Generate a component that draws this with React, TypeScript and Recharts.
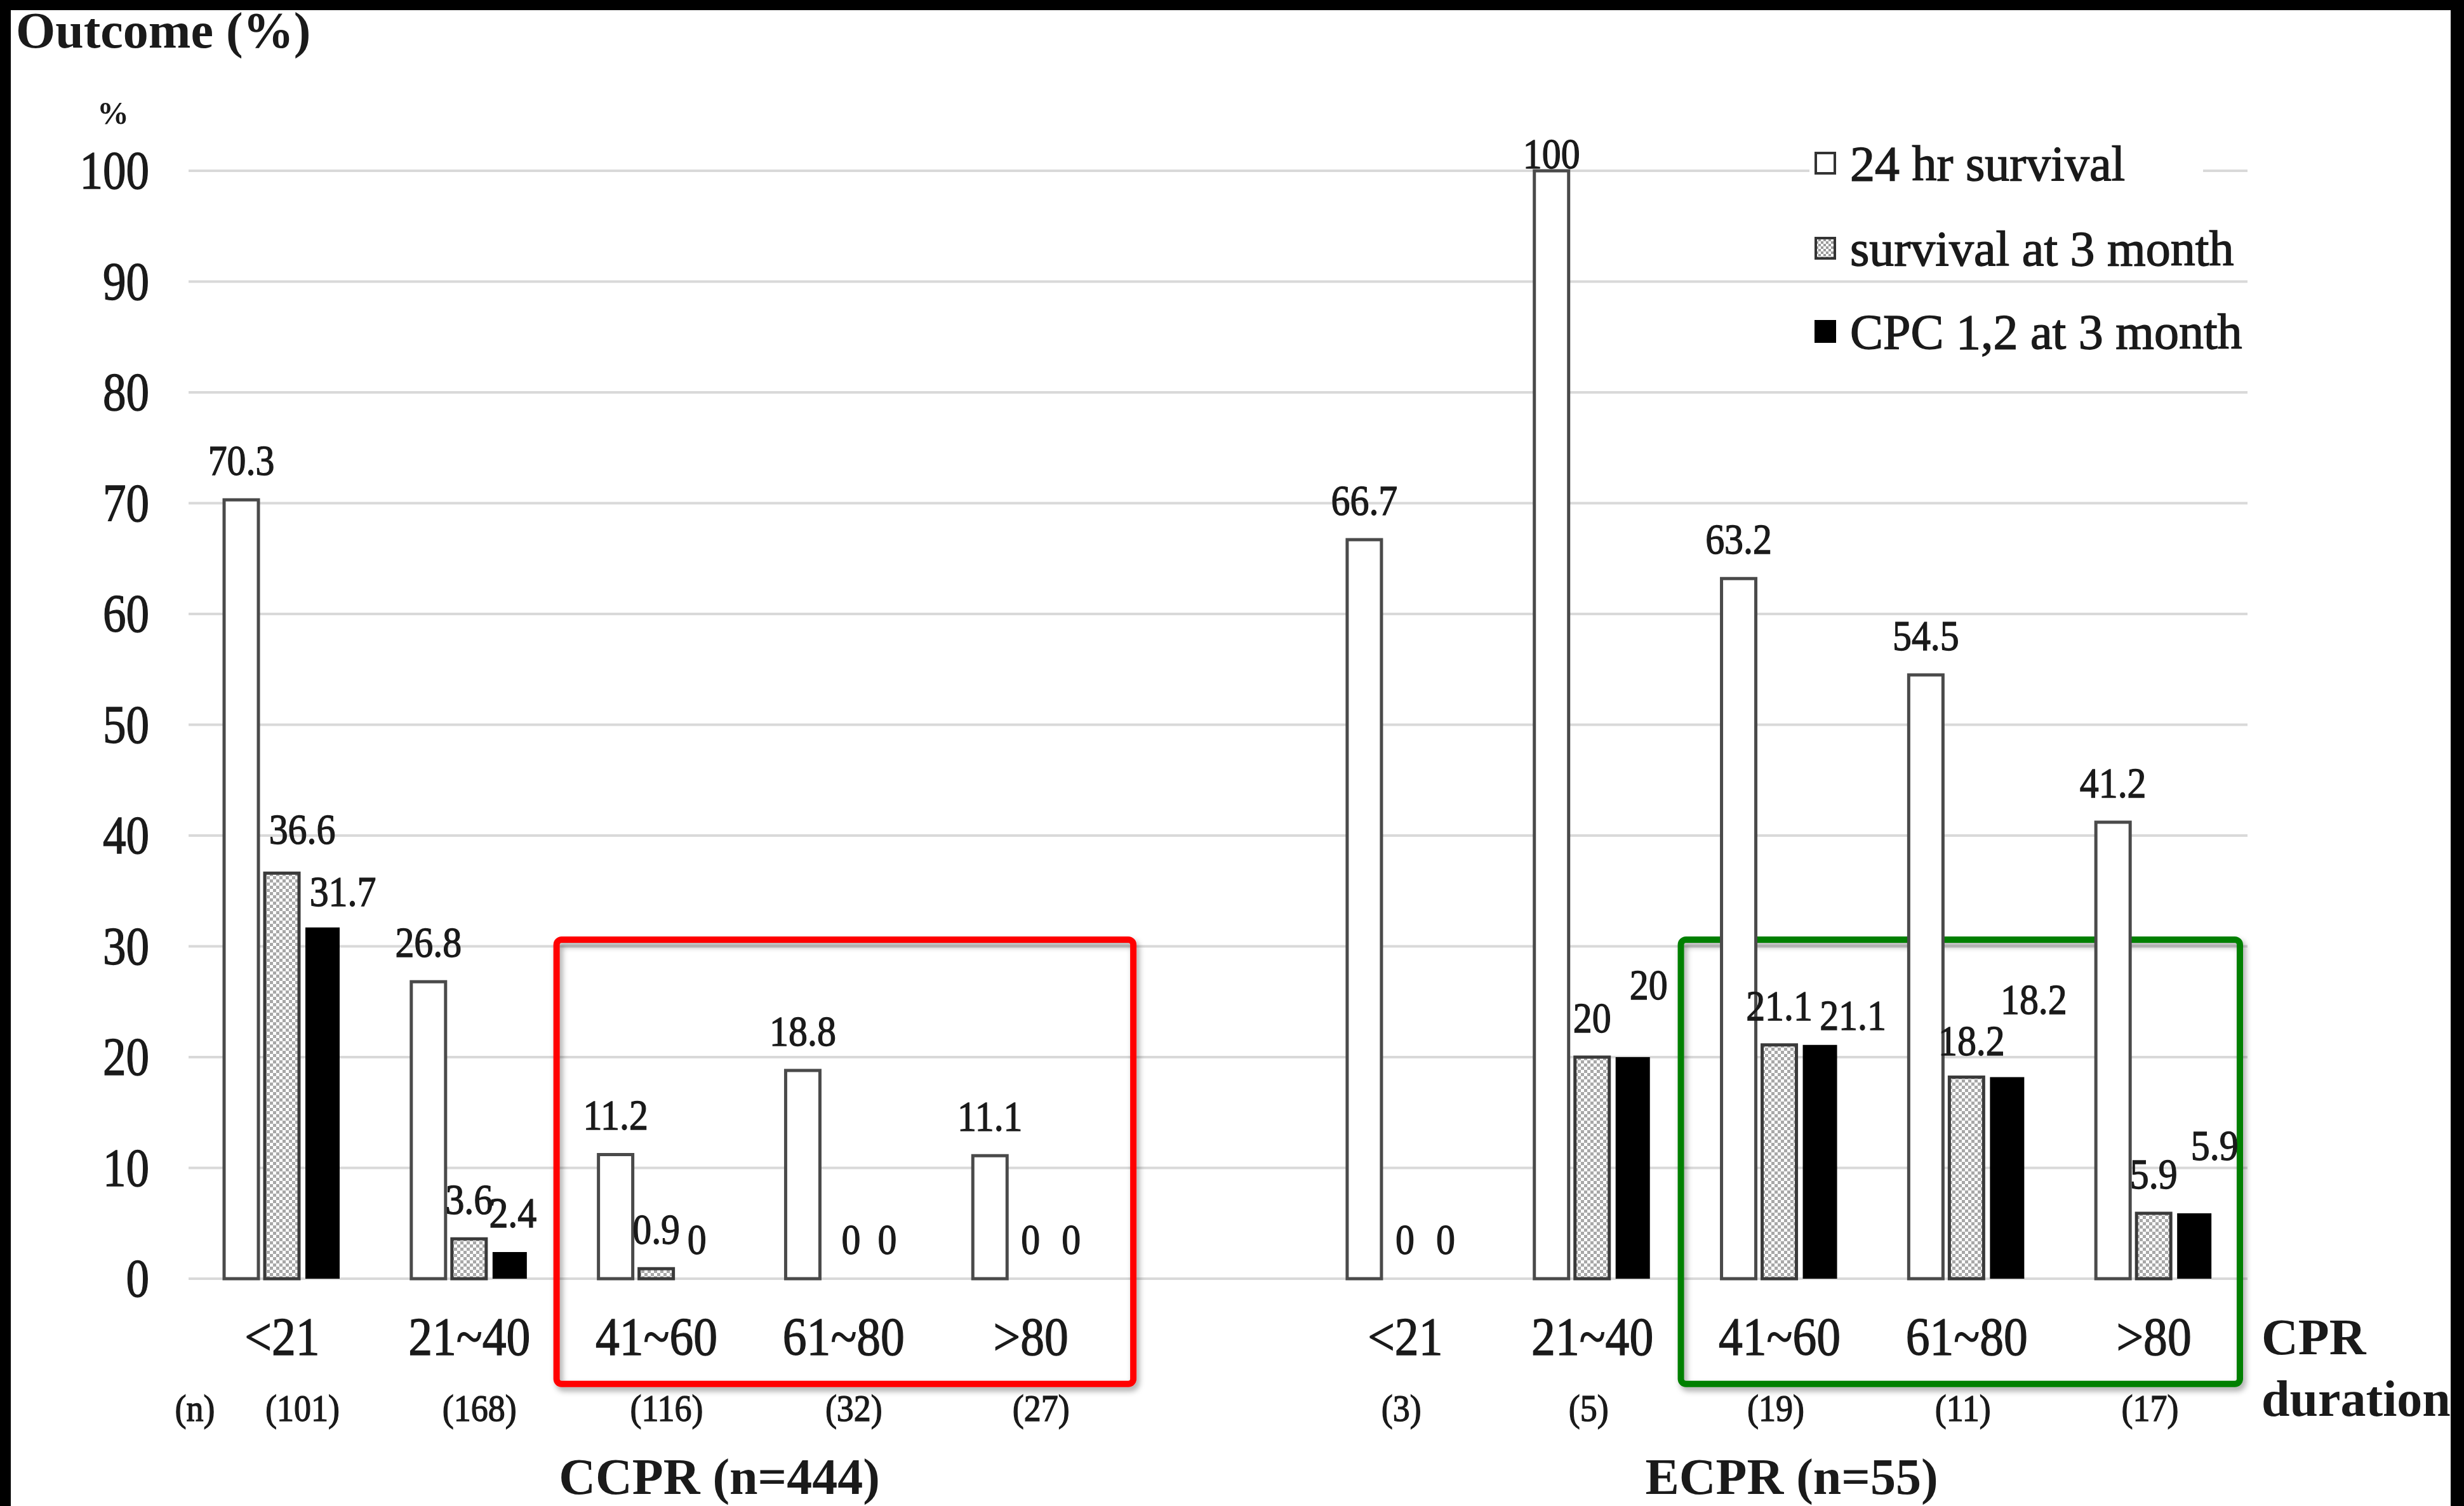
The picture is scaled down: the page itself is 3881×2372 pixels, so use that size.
import React from 'react';
import { BarChart, Bar, XAxis, YAxis, CartesianGrid, ReferenceArea, LabelList } from 'recharts';

// ---------- data ----------
const durationCategories = ['<21', '21~40', '41~60', '61~80', '>80'];
const ccprCounts = ['(101)', '(168)', '(116)', '(32)', '(27)'];
const ecprCounts = ['(3)', '(5)', '(19)', '(11)', '(17)'];
const ccprSurvival24h = [70.3, 26.8, 11.2, 18.8, 11.1];
const ccprSurvival3m = [36.6, 3.6, 0.9, 0, 0];
const ccprCpc3m = [31.7, 2.4, 0, 0, 0];
const ecprSurvival24h = [66.7, 100, 63.2, 54.5, 41.2];
const ecprSurvival3m = [0, 20, 21.1, 18.2, 5.9];
const ecprCpc3m = [0, 20, 21.1, 18.2, 5.9];
const yTicks = [0, 10, 20, 30, 40, 50, 60, 70, 80, 90, 100];
const seriesNames = ['24 hr survival', 'survival at 3 month', 'CPC 1,2 at 3 month'];
const groupTitles = ['CCPR (n=444)', 'ECPR (n=55)'];

type Row = { key: string; label: string; n: string; s24: number | null; s3m: number | null; cpc: number | null };

const rows: Row[] = [
  ...durationCategories.map((c, i) => ({
    key: `C${i}`, label: c, n: ccprCounts[i],
    s24: ccprSurvival24h[i], s3m: ccprSurvival3m[i], cpc: ccprCpc3m[i],
  })),
  { key: 'GAP', label: '', n: '', s24: null, s3m: null, cpc: null },
  ...durationCategories.map((c, i) => ({
    key: `E${i}`, label: c, n: ecprCounts[i],
    s24: ecprSurvival24h[i], s3m: ecprSurvival3m[i], cpc: ecprCpc3m[i],
  })),
];

// ---------- layout / style ----------
const SERIF = '"Liberation Serif", "Times New Roman", serif';
const TEXT = '#1a1a1a';
const W = 3881;
const H = 2372;
const BAR_SIZE = 54;
const BAR_GAP = 10;

// manual label nudges (dx, dy) as in the original figure
const LABEL_NUDGE: Record<string, [number, number]> = {
  's3m:C0': [32, -7],
  'cpc:C0': [32, 5],
  'cpc:C1': [5, 0],
  's3m:C3': [12, 0],
  'cpc:C3': [5, 0],
  's24:E1': [0, 35],
  'cpc:E1': [25, -52],
  'cpc:E2': [52, 15],
  's3m:E3': [8, 5],
  'cpc:E3': [42, -60],
  'cpc:E4': [32, -45],
};

const SquishText = ({ x, y, size, sx = 1, weight = 'normal', anchor = 'middle', children }: any) => (
  <text
    transform={`translate(${x},${y}) scale(${sx},1)`}
    x={0}
    y={0}
    textAnchor={anchor}
    dominantBaseline="central"
    fontFamily={SERIF}
    fontSize={size}
    fontWeight={weight}
    fill={TEXT}
    stroke={TEXT}
    strokeWidth={weight === 'bold' ? 0 : 1.4}
  >
    {children}
  </text>
);

// All three labels of a category are drawn from the 24-hr bar geometry,
// so that zero-valued bars (which draw no rectangle) still get their "0".
const GroupLabels = (props: any) => {
  const { x, y, width, height, value } = props;
  if (value === null || value === undefined) return null;
  const row = rows.find((r) => r.s24 === Number(value));
  if (!row || !row.s24) return null;
  const baseline = Number(y) + Number(height);
  const unit = Number(height) / row.s24;
  const step = Number(width) + BAR_GAP;
  const series: Array<[string, number | null]> = [['s24', row.s24], ['s3m', row.s3m], ['cpc', row.cpc]];
  return (
    <g>
      {series.map(([s, v], i) => {
        if (v === null) return null;
        const [dx, dy] = LABEL_NUDGE[`${s}:${row.key}`] || [0, 0];
        const cx = Number(x) + Number(width) / 2 + i * step + dx;
        const cy = baseline - v * unit - 62 + dy;
        return (
          <SquishText key={s} x={cx} y={cy} size={68} sx={0.88}>
            {String(v)}
          </SquishText>
        );
      })}
    </g>
  );
};

const XTick = (props: any) => {
  const { x, y, payload } = props;
  const row = rows.find((r) => r.key === payload.value);
  if (!row || row.key === 'GAP') return null;
  const nShift = row.key === 'C0' ? 32 : row.key.startsWith('C') ? 16 : -6;
  return (
    <g>
      <SquishText x={x} y={y + 92} size={84} sx={0.9}>{row.label}</SquishText>
      <SquishText x={x + nShift} y={y + 204} size={60} sx={0.9}>{row.n}</SquishText>
    </g>
  );
};

const YTick = (props: any) => {
  const { x, y, payload } = props;
  return (
    <SquishText x={x} y={y} size={84} sx={0.87} anchor="end">
      {payload.value}
    </SquishText>
  );
};

const BoxShape = (props: any) => {
  const { x, y, width, height, color, padL = 0, padR = 0 } = props;
  if ([x, y, width, height].some((v) => v === undefined || isNaN(Number(v)))) return null;
  return (
    <rect
      x={Number(x) - padL}
      y={y}
      width={Number(width) + padL + padR}
      height={height}
      rx={8}
      ry={8}
      fill="none"
      stroke={color}
      strokeWidth={10}
      filter="url(#boxShadow)"
    />
  );
};

const legendY = [257, 391, 522];

const Overlay = () => (
  <svg
    width={W}
    height={H}
    style={{ position: 'absolute', left: 0, top: 0, pointerEvents: 'none' }}
  >
    <defs>
      <pattern id="hatchLegend" width="8" height="8" patternUnits="userSpaceOnUse">
        <rect width="8" height="8" fill="#ffffff" />
        <rect width="4" height="4" fill="#9a9a9a" />
        <rect x="4" y="4" width="4" height="4" fill="#9a9a9a" />
      </pattern>
    </defs>
    {/* frame */}
    <rect x={0} y={0} width={W} height={16} fill="#000" />
    <rect x={0} y={0} width={17} height={H} fill="#000" />
    <rect x={3860} y={0} width={21} height={H} fill="#000" />

    {/* title */}
    <text x={25} y={75} fontFamily={SERIF} fontSize={80} fontWeight="bold" fill={TEXT}>Outcome (%)</text>
    <text x={178} y={178} textAnchor="middle" dominantBaseline="central" fontFamily={SERIF} fontSize={50} fontWeight="bold" fill={TEXT}>%</text>

    {/* legend */}
    {seriesNames.map((name, i) => (
      <g key={name}>
        <rect x={2850} y={legendY[i] - 44} width={620} height={88} fill="#fff" />
        <rect
          x={2860}
          y={legendY[i] - 16}
          width={30}
          height={32}
          fill={i === 0 ? '#fff' : i === 1 ? 'url(#hatchLegend)' : '#000'}
          stroke={i === 2 ? '#000' : '#333'}
          strokeWidth={4}
        />
        <text
          x={2914}
          y={legendY[i]}
          dominantBaseline="central"
          fontFamily={SERIF}
          fontSize={78}
          fill={TEXT}
          stroke={TEXT}
          strokeWidth={1.4}
        >
          {name}
        </text>
      </g>
    ))}

    {/* (n) label and group titles */}
    <SquishText x={307} y={2218} size={60} sx={0.9}>(n)</SquishText>
    <text x={1133} y={2326} textAnchor="middle" dominantBaseline="central" fontFamily={SERIF} fontSize={80} fontWeight="bold" fill={TEXT}>
      {groupTitles[0]}
    </text>
    <text x={2822} y={2326} textAnchor="middle" dominantBaseline="central" fontFamily={SERIF} fontSize={80} fontWeight="bold" fill={TEXT}>
      {groupTitles[1]}
    </text>
    <text x={3562} y={2106} dominantBaseline="central" fontFamily={SERIF} fontSize={80} fontWeight="bold" fill={TEXT}>CPR</text>
    <text x={3562} y={2203} dominantBaseline="central" fontFamily={SERIF} fontSize={80} fontWeight="bold" fill={TEXT}>duration</text>
  </svg>
);

export default function App() {
  return (
    <div style={{ position: 'absolute', left: 0, top: 0, width: W, height: H, background: '#fff', overflow: 'hidden' }}>
      <BarChart
        width={W}
        height={H}
        data={rows}
        margin={{ top: 269, right: 341, bottom: 0, left: 20 }}
        barSize={BAR_SIZE}
        barGap={BAR_GAP}
      >
        <defs>
          <pattern id="hatchBar" width="10" height="10" patternUnits="userSpaceOnUse">
            <rect width="10" height="10" fill="#ffffff" />
            <rect width="5" height="5" fill="#a8a8a8" />
            <rect x="5" y="5" width="5" height="5" fill="#a8a8a8" />
          </pattern>
          <filter id="boxShadow" x="-5%" y="-5%" width="110%" height="110%">
            <feDropShadow dx="4" dy="6" stdDeviation="5" floodColor="#000" floodOpacity="0.35" />
          </filter>
        </defs>
        <CartesianGrid horizontal vertical={false} stroke="#d9d9d9" strokeWidth={4} />
        <XAxis
          dataKey="key"
          height={358}
          axisLine={false}
          tickLine={false}
          tickSize={0}
          tickMargin={0}
          interval={0}
          tick={<XTick />}
        />
        <YAxis
          width={277}
          domain={[0, 100]}
          ticks={yTicks}
          axisLine={false}
          tickLine={false}
          tickSize={0}
          tickMargin={62}
          interval={0}
          tick={<YTick />}
        />
        <Bar dataKey="s24" name={seriesNames[0]} fill="#ffffff" stroke="#4a4a4a" strokeWidth={5} isAnimationActive={false}>
          <LabelList dataKey="s24" content={GroupLabels} />
        </Bar>
        <Bar dataKey="s3m" name={seriesNames[1]} fill="url(#hatchBar)" stroke="#3a3a3a" strokeWidth={5} isAnimationActive={false} />
        <Bar dataKey="cpc" name={seriesNames[2]} fill="#000000" isAnimationActive={false} />
        <ReferenceArea x1="C2" x2="C4" y1={-9.5} y2={30.6} ifOverflow="visible" shape={<BoxShape color="#ff0000" padL={10} padR={14} />} />
        <ReferenceArea x1="E2" x2="E4" y1={-9.5} y2={30.6} ifOverflow="visible" shape={<BoxShape color="#008000" padL={8} padR={-12} />} />
      </BarChart>
      <Overlay />
    </div>
  );
}
